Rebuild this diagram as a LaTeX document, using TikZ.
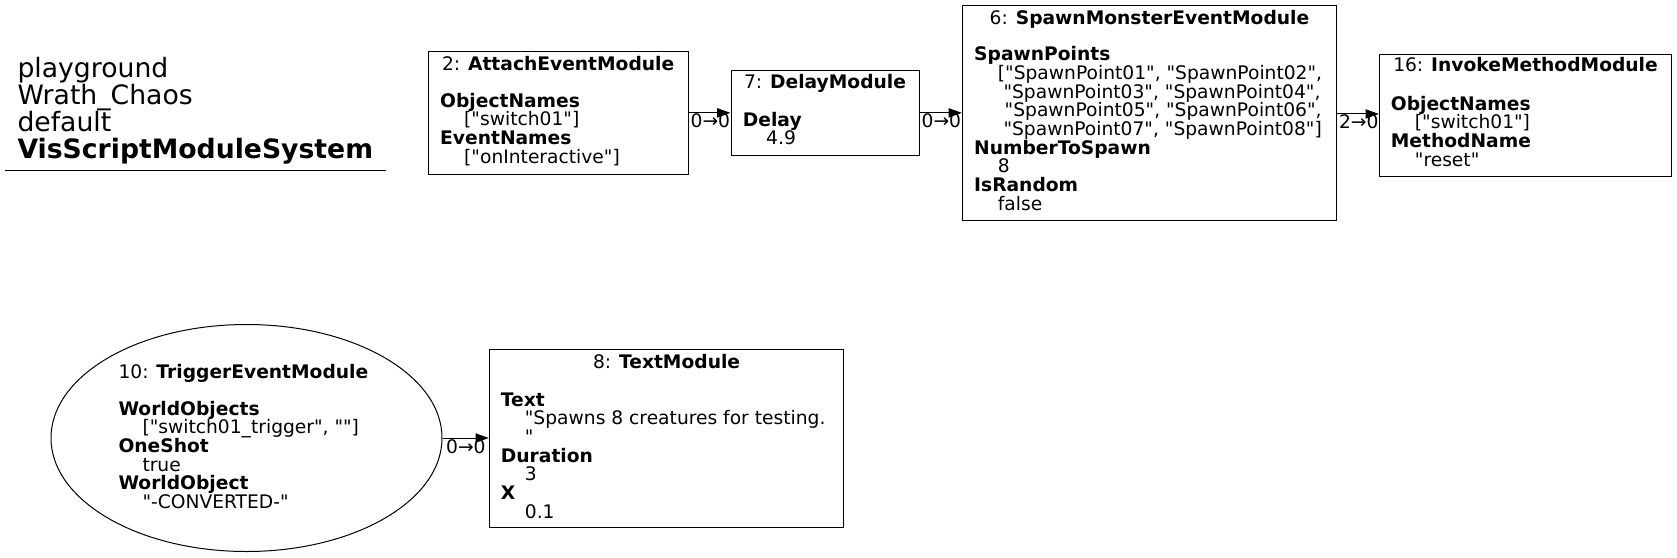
\documentclass[tikz,border=0pt]{standalone}
\usepackage{fontspec}
\setmainfont{DejaVu Sans}[Ligatures=TeXOff]
\usetikzlibrary{arrows.meta,shapes.geometric}
\newcommand\gvl[2]{\vtop{\baselineskip=#1\lineskiplimit=-1000pt\lineskip=0pt #2}}
\newcommand\kv[1]{\hbox{\textbf{#1}}}
\newcommand\vv[2][24pt]{\hbox{\kern#1 #2}}
\tikzset{
  gvfont/.style={font=\fontsize{18.67}{18.67}\selectfont},
  box/.style={draw, line width=1pt, inner sep=0pt},
  ttl/.style={gvfont, anchor=base, inner sep=0pt},
  body/.style={gvfont, anchor=base west, inner sep=0pt},
  lbl/.style={gvfont, anchor=base west, inner sep=0pt},
  edge/.style={line width=1pt, -{Triangle[length=13.3pt,width=9.3pt]}}
}
\begin{document}
\begin{tikzpicture}[x=1pt,y=-1pt]
\useasboundingbox (0,0) rectangle (1677,557);
% header
\node[anchor=base west, inner sep=0pt, font=\fontsize{26.67}{26.67}\selectfont] (hdr) at (17.3,77.7)
  {\gvl{26.9pt}{\hbox{playground}\hbox{Wrath\_Chaos}\hbox{default}\hbox{\textbf{VisScriptModuleSystem}}}};
\coordinate (u1) at (5,170.7);
\coordinate (u2) at (385.7,170.7);
\draw[line width=1pt] (u1) -- (u2);
% box 2
\node[box, minimum width=259.7pt, minimum height=122.3pt] (b2) at (558.15,112.85) {};
\node[ttl] (t2) at (558.15,70) {2: \textbf{AttachEventModule}};
\node[body] (d2) at (440,107.3) {\gvl{18.67pt}{\kv{ObjectNames}\vv{["switch01"]}\kv{EventNames}\vv{["onInteractive"]}}};
% box 7
\node[box, minimum width=188pt, minimum height=85.7pt] (b7) at (825,112.85) {};
\node[ttl] (t7) at (825,88.3) {7: \textbf{DelayModule}};
\node[body] (d7) at (742.7,126) {\gvl{18.67pt}{\kv{Delay}\vv[23.3pt]{4.9}}};
% box 6
\node[box, minimum width=374.4pt, minimum height=215.7pt] (b6) at (1149.5,112.85) {};
\node[ttl] (t6) at (1149.5,24) {6: \textbf{SpawnMonsterEventModule}};
\node[body] (d6) at (974,60.7) {\gvl{18.67pt}{\kv{SpawnPoints}
  \vv[23.7pt]{["SpawnPoint01", "SpawnPoint02",}
  \vv[29.3pt]{"SpawnPoint03", "SpawnPoint04",}
  \vv[30.5pt]{"SpawnPoint05", "SpawnPoint06",}
  \vv[29.3pt]{"SpawnPoint07", "SpawnPoint08"]}
  \kv{NumberToSpawn}\vv[23.7pt]{8}\kv{IsRandom}\vv[23.7pt]{false}}};
% box 16
\node[box, minimum width=292.4pt, minimum height=122.7pt] (b16) at (1525.5,115.35) {};
\node[ttl] (t16) at (1525.5,71.7) {16: \textbf{InvokeMethodModule}};
\node[body] (d16) at (1390.7,110) {\gvl{18.67pt}{\kv{ObjectNames}\vv{["switch01"]}\kv{MethodName}\vv{"reset"}}};
% ellipse 10
\node[box, ellipse, minimum width=391pt, minimum height=227pt] (b10) at (246.5,438) {};
\node[body] (t10) at (118.3,378.3) {10: \textbf{TriggerEventModule}};
\node[body] (d10) at (118.3,415) {\gvl{18.67pt}{\kv{WorldObjects}\vv{["switch01\_trigger", ""]}\kv{OneShot}\vv{true}\kv{WorldObject}\vv{"-CONVERTED-"}}};
% box 8
\node[box, minimum width=354.5pt, minimum height=178pt] (b8) at (666.55,438.3) {};
\node[ttl] (t8) at (666.55,368.3) {8: \textbf{TextModule}};
\node[body] (d8) at (500.7,406) {\gvl{18.67pt}{\kv{Text}\vv{"Spawns 8 creatures for testing.}\vv{"}\kv{Duration}\vv{3}\kv{X}\vv{0.1}}};
% edges
\draw[edge] (b2.east) -- (b7.west);
\node[lbl] (l27) at ([xshift=2pt,yshift=-14.5pt]b2.east) {0→0};
\draw[edge] (b7.east) -- (b6.west);
\node[lbl] (l76) at ([xshift=2pt,yshift=-14.5pt]b7.east) {0→0};
\coordinate (e6) at ([yshift=-1.1pt]b6.east);
\draw[edge] (e6) -- (e6 -| b16.west);
\node[lbl] (l616) at ([xshift=1.6pt,yshift=-14.3pt]e6) {2→0};
\draw[edge] (b10.east) -- (b10.east -| b8.west);
\node[lbl] (l108) at ([xshift=3.5pt,yshift=-15.3pt]b10.east) {0→0};
\end{tikzpicture}
\end{document}
